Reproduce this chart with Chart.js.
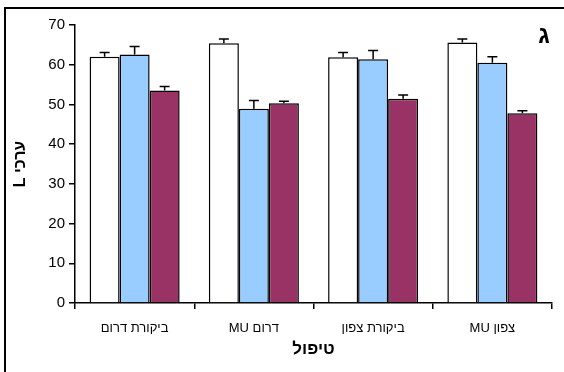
<!DOCTYPE html>
<html lang="he">
<head>
<meta charset="utf-8">
<script src="https://cdn.jsdelivr.net/npm/chart.js@4/dist/chart.umd.min.js"></script>
<style>
  html, body { margin: 0; padding: 0; background: #fff; }
  #wrap { width: 564px; height: 372px; position: relative; }
</style>
</head>
<body>
<div id="wrap"><canvas id="c" dir="rtl" width="564" height="372"></canvas></div>
<script>
// Treatments (category axis)
const categories = ['ביקורת דרום', 'דרום MU', 'ביקורת צפון', 'צפון MU'];

// Mean L values and their standard errors per series
const whiteValues  = [62.0, 65.4, 61.9, 65.6];
const whiteErrors  = [1.1, 1.1, 1.2, 0.9];
const blueValues   = [62.6, 48.9, 61.4, 60.5];
const blueErrors   = [2.0, 2.1, 2.2, 1.5];
const maroonValues = [53.5, 50.3, 51.4, 47.8];
const maroonErrors = [1.0, 0.5, 1.0, 0.6];

// Value axis
const yTickValues = [0, 10, 20, 30, 40, 50, 60, 70];
const yTitle = 'ערכי L';
const xTitle = 'טיפול';
const panelLetter = 'ג';

const FONT = "'Liberation Sans', Arial, sans-serif";

// One-sided (upward) error bars with a cap
const errorBars = {
  id: 'errorBars',
  afterDatasetsDraw(chart) {
    const ctx = chart.ctx;
    const y = chart.scales.y;
    ctx.save();
    ctx.strokeStyle = '#000';
    ctx.lineWidth = 1.5;
    chart.data.datasets.forEach((ds, i) => {
      const meta = chart.getDatasetMeta(i);
      meta.data.forEach((bar, j) => {
        const top = y.getPixelForValue(ds.data[j] + ds.errors[j]);
        const base = bar.y;
        ctx.beginPath();
        ctx.moveTo(bar.x, base);
        ctx.lineTo(bar.x, top);
        ctx.moveTo(bar.x - 5, top);
        ctx.lineTo(bar.x + 5, top);
        ctx.stroke();
      });
    });
    ctx.restore();
  }
};

// Page frame and panel letter
const frame = {
  id: 'frame',
  beforeDraw(chart) {
    const ctx = chart.ctx;
    ctx.save();
    ctx.fillStyle = '#fff';
    ctx.fillRect(0, 0, chart.width, chart.height);
    ctx.restore();
  },
  afterDraw(chart) {
    const ctx = chart.ctx;
    ctx.save();
    ctx.strokeStyle = '#000';
    ctx.lineWidth = 2;
    ctx.beginPath();
    ctx.moveTo(5, chart.height);
    ctx.lineTo(5, 8);
    ctx.lineTo(chart.width, 8);
    ctx.stroke();
    ctx.fillStyle = '#000';
    ctx.font = "bold 24px " + FONT;
    ctx.textAlign = 'center';
    ctx.textBaseline = 'middle';
    ctx.fillText(panelLetter, 544, 36);
    ctx.restore();
  }
};

const barStyle = { borderColor: '#000', borderWidth: 1.5, borderSkipped: 'bottom' };

new Chart(document.getElementById('c'), {
  type: 'bar',
  data: {
    labels: categories,
    datasets: [
      Object.assign({ data: whiteValues,  errors: whiteErrors,  backgroundColor: '#ffffff' }, barStyle),
      Object.assign({ data: blueValues,   errors: blueErrors,   backgroundColor: '#99ccff' }, barStyle),
      Object.assign({ data: maroonValues, errors: maroonErrors, backgroundColor: '#993366' }, barStyle)
    ]
  },
  options: {
    responsive: false,
    devicePixelRatio: 1,
    animation: false,
    layout: { padding: { left: 0, right: 12, top: 25, bottom: 0 } },
    plugins: { legend: { display: false }, tooltip: { enabled: false } },
    datasets: { bar: { categoryPercentage: 0.755, barPercentage: 1 } },
    scales: {
      x: {
        grid: { offset: true, drawOnChartArea: false, drawTicks: true, tickLength: 6, color: '#000', lineWidth: 1.5 },
        border: { display: true, color: '#000', width: 1.5 },
        ticks: { color: '#000', padding: 12, maxRotation: 0, font: { family: FONT, size: 13 } },
        title: { display: true, text: xTitle, color: '#000', padding: { top: 0, bottom: 12 }, font: { family: FONT, size: 17, weight: 'bold' } },
        afterFit(scale) { scale.height = 69; }
      },
      y: {
        min: 0,
        max: 70,
        afterBuildTicks(scale) { scale.ticks = yTickValues.map(v => ({ value: v })); },
        grid: { drawOnChartArea: false, drawTicks: true, tickLength: 6, color: '#000', lineWidth: 1.5 },
        border: { display: true, color: '#000', width: 1.5 },
        ticks: { color: '#000', padding: 4, font: { family: FONT, size: 15 } },
        title: { display: true, text: yTitle, color: '#000', padding: { top: 11, bottom: 0 }, font: { family: FONT, size: 16, weight: 'bold' } },
        afterFit(scale) { scale.width = 75; }
      }
    }
  },
  plugins: [frame, errorBars]
});
</script>
</body>
</html>
